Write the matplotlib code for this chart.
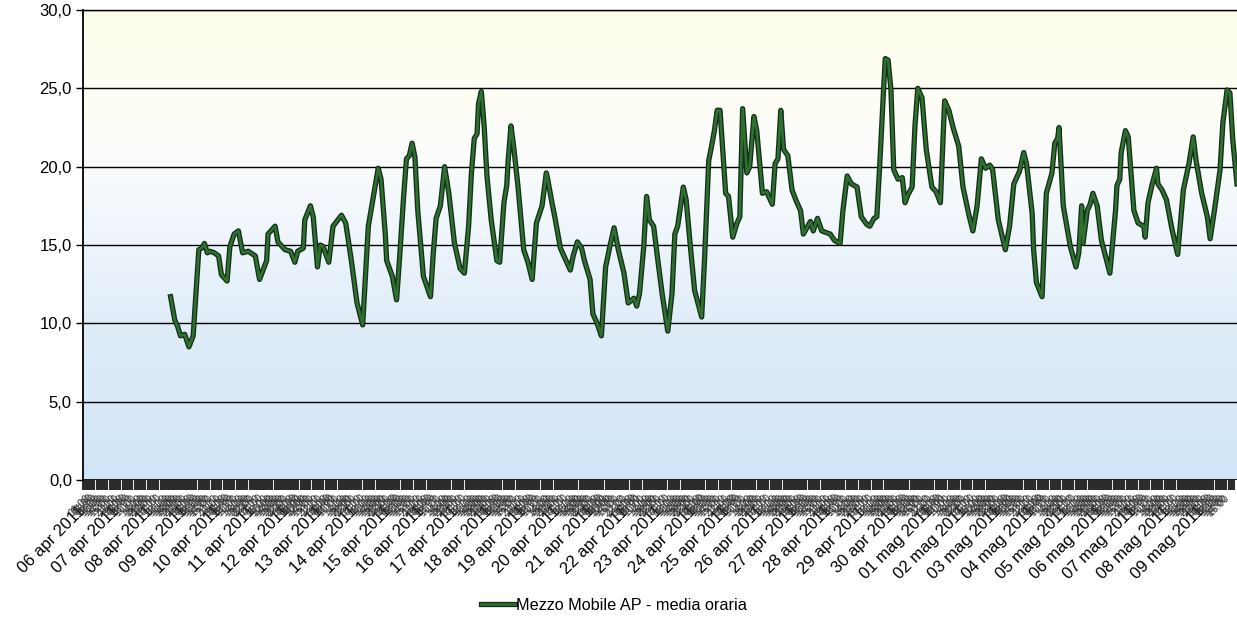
import numpy as np
import pandas as pd
import matplotlib
matplotlib.use("Agg")
import matplotlib.pyplot as plt
import matplotlib.patheffects as pe
from matplotlib.ticker import FuncFormatter, FixedLocator
from matplotlib.transforms import ScaledTranslation

plt.rcParams['font.family'] = ['Liberation Sans', 'DejaVu Sans']

# Hourly mean readings: hours elapsed since 06 apr 2011 00:00, value
hours = [62, 65, 67, 69, 72, 75, 78, 82, 84, 86, 88, 90, 93, 96, 98, 102, 104, 107, 110, 113,
         117, 122, 125, 130, 131, 136, 138, 143, 147, 150, 152, 156, 157, 161, 163, 166, 168, 170, 174, 177,
         183, 186, 190, 194, 198, 202, 206, 209,
         211, 214, 215, 219, 222, 224, 227, 229, 231, 233, 235, 237, 241, 246, 248, 250, 253, 256, 259, 263,
         267, 270, 273, 275, 277, 279, 280, 282, 284, 286, 289, 293, 295, 298, 300, 301, 303, 305, 308, 312,
         315, 318, 321, 325, 328, 329, 332, 334, 338, 342, 345, 347, 350, 353, 355, 359, 361,
         364, 367, 370, 373, 376, 379, 383, 386, 390, 392, 394, 397, 399, 401, 404, 407, 410, 414, 417, 419,
         421, 425, 427, 430, 433, 438, 440, 443, 445, 447, 449, 451, 455, 457, 460, 463, 465, 467, 470, 472,
         475, 477, 481, 484, 488, 490, 492, 494, 496, 499, 502, 505, 508, 510,
         515, 517, 520, 523, 529, 532, 536, 538, 541, 544, 548, 551, 555, 557, 560, 562, 564, 567, 568, 570,
         572, 574, 577, 580, 582, 584, 587, 589, 591, 594, 597, 601, 604, 607, 610, 613, 616, 620, 623, 627,
         630, 633, 636, 639, 642, 644, 648, 653, 656, 659, 663, 666,
         668, 672, 673, 675, 679, 682, 686, 688, 690, 691, 694, 699, 703, 705, 707, 708, 711, 713, 715, 718,
         721, 727, 731, 732, 734, 735, 738, 740, 744, 747, 751, 752, 754, 757, 760, 761, 764, 767, 771, 775,
         779, 783, 786, 788, 792, 796, 798, 801, 805, 807, 810, 812, 814, 817]

values = [11.7, 10.2, 9.8, 9.2, 9.3, 8.5, 9.2, 14.7, 14.8, 15.1, 14.5, 14.6, 14.5, 14.3, 13.1, 12.7, 14.9, 15.7, 15.9, 14.5,
          14.6, 14.3, 12.8, 14.0, 15.7, 16.2, 15.2, 14.7, 14.6, 13.9, 14.6, 14.8, 16.6, 17.5, 16.8, 13.6, 15.0, 14.9, 13.9, 16.2,
          16.9, 16.4, 14.0, 11.3, 9.9, 16.2, 18.3, 19.9,
          19.2, 15.7, 14.0, 13.0, 11.5, 14.0, 18.1, 20.5, 20.7, 21.5, 20.6, 17.2, 13.0, 11.7, 14.5, 16.7, 17.5, 20.0, 18.3, 15.1,
          13.5, 13.2, 16.2, 19.6, 21.8, 22.1, 24.0, 24.8, 22.6, 19.4, 16.6, 14.0, 13.9, 17.7, 18.8, 20.4, 22.6, 21.2, 18.7, 14.7,
          13.9, 12.8, 16.4, 17.5, 19.6, 19.2, 17.7, 16.8, 14.8, 14.0, 13.4, 14.3, 15.2, 14.8, 14.0, 12.8, 10.6,
          10.0, 9.2, 13.6, 14.9, 16.1, 14.7, 13.2, 11.3, 11.6, 11.1, 11.9, 14.9, 18.1, 16.6, 16.2, 14.0, 11.9, 9.5, 11.9, 15.7,
          16.2, 18.7, 17.9, 14.9, 12.1, 10.4, 14.0, 20.4, 21.3, 22.3, 23.6, 23.6, 18.3, 18.1, 15.5, 16.4, 16.8, 23.7, 19.6, 20.0,
          23.2, 22.3, 18.3, 18.4, 17.6, 20.2, 20.5, 23.6, 21.1, 20.7, 18.5, 17.8, 17.2, 15.7,
          16.5, 15.9, 16.7, 15.9, 15.7, 15.3, 15.1, 17.2, 19.4, 18.9, 18.7, 16.8, 16.3, 16.2, 16.7, 16.8, 20.0, 25.3, 26.9, 26.8,
          24.9, 19.8, 19.2, 19.3, 17.7, 18.2, 18.7, 22.6, 25.0, 24.4, 21.1, 18.7, 18.4, 17.7, 24.2, 23.6, 22.5, 21.3, 18.7, 17.0,
          15.9, 17.5, 20.5, 19.9, 20.1, 19.8, 16.6, 14.7, 16.2, 18.9, 19.7, 20.9,
          20.2, 17.0, 14.7, 12.6, 11.7, 18.3, 19.6, 21.5, 21.8, 22.5, 17.5, 14.9, 13.6, 14.5, 17.5, 15.1, 17.2, 17.6, 18.3, 17.5,
          15.3, 13.2, 17.2, 18.8, 19.2, 20.9, 22.3, 21.9, 17.2, 16.4, 16.2, 15.5, 17.7, 18.9, 19.9, 18.9, 18.5, 17.9, 16.0, 14.4,
          18.5, 20.2, 21.9, 20.4, 18.3, 16.8, 15.4, 17.2, 19.8, 22.8, 24.9, 24.7, 21.7, 18.9]

series_name = "Mezzo Mobile AP - media oraria"
month_names = {4: "apr", 5: "mag"}
days = pd.date_range("2011-04-06", "2011-05-09", freq="D")
day_labels = [f"{d.day:02d} {month_names[d.month]} {d.year}" for d in days]
y_ticks = [0, 5, 10, 15, 20, 25, 30]

W, H = 1237, 625
fig = plt.figure(figsize=(W / 100, H / 100), dpi=100)
fig.patch.set_facecolor("white")
ax = fig.add_axes([83 / W, 145 / H, 1 - 83 / W, 470 / H])

x_max = 817
ax.set_xlim(0, x_max)
ax.set_ylim(0, 30)

# vertical background gradient: pale cream at the top, light blue at the bottom
stops_v = np.array([0, 10, 15, 21, 25, 30], dtype=float)
stops_c = np.array([[208, 229, 247], [224, 237, 249], [237, 244, 251],
                    [252, 253, 252], [254, 254, 243], [253, 253, 234]], dtype=float) / 255
grid_v = np.linspace(30, 0, 300)
grad = np.stack([np.interp(grid_v, stops_v, stops_c[:, k]) for k in range(3)], axis=-1)
ax.imshow(grad[:, None, :], extent=[0, x_max, 0, 30], aspect="auto", zorder=0, interpolation="bilinear")

# horizontal gridlines
ax.set_yticks(y_ticks)
ax.yaxis.set_major_formatter(FuncFormatter(lambda v, p: f"{v:.1f}".replace(".", ",")))
ax.set_axisbelow(True)
ax.yaxis.grid(True, color="black", linewidth=1.0, zorder=0.5)
ax.tick_params(axis="y", labelsize=12, length=5, width=1, color="black", pad=3)

for s in ["right", "bottom"]:
    ax.spines[s].set_visible(False)
ax.spines["left"].set_linewidth(1.3)
ax.spines["top"].set_linewidth(1.0)
ax.axhline(0, color="black", linewidth=1.2, zorder=3)

# category axis: one long label per day, short hour labels crowded underneath the tick band
day_pos = list(range(0, 24 * len(day_labels), 24))
ax.xaxis.set_major_locator(FixedLocator(day_pos))
ax.set_xticklabels(day_labels)
ax.tick_params(axis="x", which="major", length=7, width=1.5, color="#2c2c2c", pad=10, labelsize=12)

minor_pos = [h for h in range(0, x_max) if h % 9 != 0 and h % 24 != 0]
ax.xaxis.set_minor_locator(FixedLocator(minor_pos))
ax.xaxis.set_minor_formatter(FuncFormatter(
    lambda v, p: f"{int(round(v)) % 24:02d}:00" if int(round(v)) % 2 == 0 and v < 811 else ""))
ax.tick_params(axis="x", which="minor", length=7, width=1.5, color="#2c2c2c", direction="out",
               pad=2, labelsize=7.5, labelcolor="#333333")

shift = ScaledTranslation(-5 / 100, 0, fig.dpi_scale_trans)
for lab in ax.get_xticklabels():
    lab.set_rotation(45)
    lab.set_ha("right")
    lab.set_rotation_mode("anchor")
    lab.set_transform(lab.get_transform() + shift)
for lab in ax.xaxis.get_minorticklabels():
    lab.set_rotation(45)
    lab.set_ha("right")
    lab.set_rotation_mode("anchor")

# data line: green stroke with dark outline
line, = ax.plot(hours, values, color="#2f6f2f", linewidth=1.9, zorder=4, label=series_name,
                solid_joinstyle="round")
line.set_path_effects([pe.Stroke(linewidth=3.8, foreground="#14301a"), pe.Normal()])

fig.legend(handles=[line], labels=[series_name], loc="center", bbox_to_anchor=(0.4964, 0.032),
           frameon=False, fontsize=11.7, handlelength=2.1, handletextpad=0.05)

fig.savefig("out.png", dpi=100)
